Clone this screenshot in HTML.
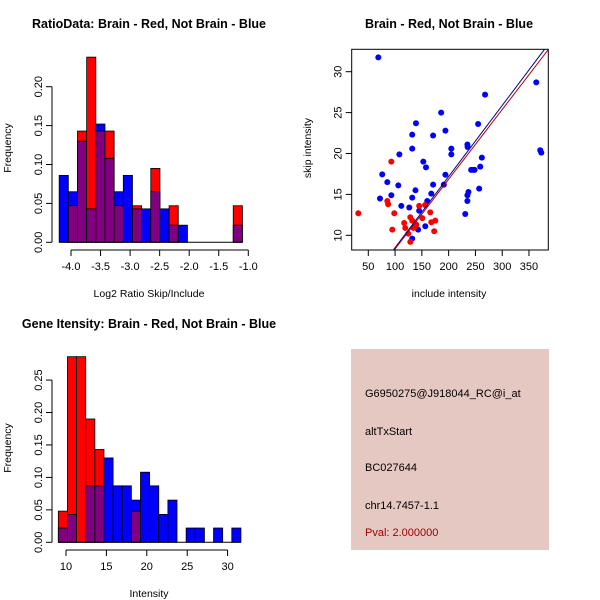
<!DOCTYPE html>
<html><head><meta charset="utf-8"><style>
body{margin:0;background:#fff;}
svg{display:block;font-family:"Liberation Sans",sans-serif;}
</style></head><body>
<svg id="s" width="600" height="600" xmlns="http://www.w3.org/2000/svg">
<rect width="600" height="600" fill="#fff"/>
<g id="p1"></g>
<g id="p2"></g>
<g id="p3"></g>
<g>
<rect x="351" y="349" width="198" height="201" fill="#E6C8C2"/>
<text x="365" y="397" font-size="11">G6950275@J918044_RC@i_at</text>
<text x="365" y="435" font-size="11">altTxStart</text>
<text x="365" y="471" font-size="11">BC027644</text>
<text x="365" y="509" font-size="11">chr14.7457-1.1</text>
<text x="365" y="536" font-size="11" fill="#A00000">Pval: 2.000000</text>
</g>
</svg>
<script>
// ---- Data: ratio histogram ----
const ratioStart=-4.2, ratioBinWidth=0.155;
const ratioBlue=[0.086,0.065,0.13,0.043,0.152,0.108,0.065,0.086,0.043,0.043,0.065,0.043,0.022,0.022,0,0,0,0,0,0.022];
const ratioRed=[0,0.047,0.143,0.238,0.143,0.143,0.047,0,0.047,0,0.095,0,0.047,0,0,0,0,0,0,0.047];
const ratioXTicks=[-4.0,-3.5,-3.0,-2.5,-2.0,-1.5,-1.0];
const ratioXTickLabels=["-4.0","-3.5","-3.0","-2.5","-2.0","-1.5","-1.0"];
const ratioYTicks=[0,0.05,0.10,0.15,0.20];
const ratioYTickLabels=["0.00","0.05","0.10","0.15","0.20"];
// ---- Data: gene intensity histogram ----
const intStart=9.05, intBinWidth=1.13;
const intBlue=[0.022,0.043,0,0.087,0.087,0.13,0.087,0.087,0.065,0.108,0.087,0.043,0.065,0,0.022,0.022,0,0.022,0,0.022];
const intRed=[0.048,0.286,0.286,0.19,0.143,0,0,0,0.048,0,0,0,0,0,0,0,0,0,0,0];
const intXTicks=[10,15,20,25,30];
const intXTickLabels=["10","15","20","25","30"];
const intYTicks=[0,0.05,0.10,0.15,0.20,0.25];
const intYTickLabels=["0.00","0.05","0.10","0.15","0.20","0.25"];
// ---- Data: scatter ----
const blueInclude=[68.7,76,71.8,85.5,93,106,108,111.6,126.5,132,132,132,132,139,138,143,145,152.7,157.7,156.4,160,167.6,171,171,186,191,194,194,205,205,231,235,235.4,235,235,237,242,246,248.5,255,257,259,262,268,363.6,371,373];
const blueSkip=[31.75,17.45,14.5,16.5,14.9,16.1,19.9,13.6,13.4,22.3,20.6,14.6,9.6,23.7,15.5,10.7,13.0,19.0,18.3,11.1,14.2,15.1,22.2,16.2,25.0,16.2,17.4,22.8,20.6,19.9,12.6,21.1,20.8,14.9,14.2,15.3,18.0,18.0,18.0,23.6,15.7,18.4,19.5,27.2,28.7,20.4,20.1];
const redInclude=[31.3,93,85.5,87,94.8,98.5,117,119,124.7,128.4,128.4,132,134,137.7,139.6,145,150.8,156,165.7,167.6,175,173];
const redSkip=[12.7,19.0,14.2,13.8,10.7,12.7,11.5,10.9,10.2,12.2,9.2,11.8,10.9,11.1,11.3,13.6,12.1,13.7,12.8,11.6,11.8,10.5];
const blueFit=[-0.2,0.0869];  // intercept, slope
const redFit=[-0.19,0.0852];
const scXTicks=[50,100,150,200,250,300,350];
const scXTickLabels=["50","100","150","200","250","300","350"];
const scYTicks=[10,15,20,25,30];
const scYTickLabels=["10","15","20","25","30"];

const NS="http://www.w3.org/2000/svg";
function mk(parent,tag,attrs,text){const e=document.createElementNS(NS,tag);for(const k in attrs)e.setAttribute(k,attrs[k]);if(text!==undefined)e.textContent=text;parent.appendChild(e);return e;}

function histogram(g,o){
  const sx=v=>o.x0px+(v-o.x0)*o.xs, sy=v=>o.y0px-v*o.ys;
  mk(g,'text',{x:o.tx,y:o.ty,'font-size':12.5,'font-weight':'bold','text-anchor':'middle'},o.title);
  for(let i=0;i<o.blue.length;i++){
    const b=o.blue[i], r=o.red[i];
    const xl=sx(o.start+i*o.bw), xr=sx(o.start+(i+1)*o.bw);
    const mx=Math.max(b,r), mn=Math.min(b,r);
    if(mx>0){
      const bar=mk(g,'rect',{x:xl,y:sy(mx),width:xr-xl,height:sy(0)-sy(mx),fill:b>=r?'#0000FF':'#FF0000',stroke:'#000','stroke-width':0.8});
      
      
    }
    if(mn>0){
      const ov=mk(g,'rect',{x:xl,y:sy(mn),width:xr-xl,height:sy(0)-sy(mn),fill:'#800080',stroke:'#000','stroke-width':0.8});
      
      
    }
  }
  mk(g,'line',{x1:sx(o.start),x2:sx(o.start+o.blue.length*o.bw),y1:sy(0),y2:sy(0),stroke:'#000'});
  const xa=o.xAxisY;
  mk(g,'line',{x1:sx(o.xt[0]),x2:sx(o.xt[o.xt.length-1]),y1:xa,y2:xa,stroke:'#000'});
  o.xt.forEach((v,i)=>{mk(g,'line',{x1:sx(v),x2:sx(v),y1:xa,y2:xa+6,stroke:'#000'});
    mk(g,'text',{x:sx(v),y:xa+20,'font-size':11,'text-anchor':'middle'},o.xl[i]);});
  mk(g,'text',{x:o.xlabX,y:o.xlabY,'font-size':10.5,'text-anchor':'middle'},o.xlab);
  const ya=o.yAxisX;
  mk(g,'line',{x1:ya,x2:ya,y1:sy(o.yt[0]),y2:sy(o.yt[o.yt.length-1]),stroke:'#000'});
  o.yt.forEach((v,i)=>{mk(g,'line',{x1:ya-6,x2:ya,y1:sy(v),y2:sy(v),stroke:'#000'});
    mk(g,'text',{x:ya-10,y:sy(v),'font-size':11,'text-anchor':'middle',transform:`rotate(-90 ${ya-10} ${sy(v)})`},o.yl[i]);});
  mk(g,'text',{x:11,y:o.ylabY,'font-size':10.5,'text-anchor':'middle',transform:`rotate(-90 11 ${o.ylabY})`},'Frequency');
}

histogram(document.getElementById('p1'),{title:'RatioData: Brain - Red, Not Brain - Blue',tx:149,ty:28,
  start:ratioStart,bw:ratioBinWidth,blue:ratioBlue,red:ratioRed,x0:-4,x0px:71,xs:59.1,y0px:242.3,ys:778,
  xt:ratioXTicks,xl:ratioXTickLabels,yt:ratioYTicks,yl:ratioYTickLabels,xAxisY:250,yAxisX:52,
  xlab:'Log2 Ratio Skip/Include',xlabX:149,xlabY:297,ylabY:148});
histogram(document.getElementById('p3'),{title:'Gene Itensity: Brain - Red, Not Brain - Blue',tx:149,ty:328,
  start:intStart,bw:intBinWidth,blue:intBlue,red:intRed,x0:10,x0px:66,xs:8.08,y0px:542.3,ys:649,
  xt:intXTicks,xl:intXTickLabels,yt:intYTicks,yl:intYTickLabels,xAxisY:550,yAxisX:52,
  xlab:'Intensity',xlabX:149,xlabY:597,ylabY:448});

(function(){
  const g=document.getElementById('p2');
  const L=351.7,R=548.3,T=49.3,B=250;
  const sx=v=>368.3+(v-50)*0.5356, sy=v=>235.3-(v-10)*8.18;
  mk(g,'text',{x:449,y:28,'font-size':12.5,'font-weight':'bold','text-anchor':'middle'},'Brain - Red, Not Brain - Blue');
  mk(g,'defs',{}).innerHTML='<clipPath id="clp"><rect x="'+L+'" y="'+T+'" width="'+(R-L)+'" height="'+(B-T)+'"/></clipPath>';
  blueInclude.forEach((v,i)=>{const c=mk(g,'circle',{cx:sx(v),cy:sy(blueSkip[i]),r:3,fill:'#0000FF'});
    
    });
  redInclude.forEach((v,i)=>{const c=mk(g,'circle',{cx:sx(v),cy:sy(redSkip[i]),r:3,fill:'#FF0000'});
    
    });
  [[blueFit,'#00008B'],[redFit,'#B00000']].forEach(([f,col])=>{
    const x1=0,x2=500;
    const ln=mk(g,'line',{x1:sx(x1),y1:sy(f[0]+f[1]*x1),x2:sx(x2),y2:sy(f[0]+f[1]*x2),stroke:col,'stroke-width':1,'clip-path':'url(#clp)'});
    
    
  });
  mk(g,'rect',{x:L,y:T,width:R-L,height:B-T,fill:'none',stroke:'#000'});
  scXTicks.forEach((v,i)=>{mk(g,'line',{x1:sx(v),x2:sx(v),y1:B,y2:B+6,stroke:'#000'});
    mk(g,'text',{x:sx(v),y:B+20,'font-size':11,'text-anchor':'middle'},scXTickLabels[i]);});
  scYTicks.forEach((v,i)=>{mk(g,'line',{x1:L-6,x2:L,y1:sy(v),y2:sy(v),stroke:'#000'});
    mk(g,'text',{x:L-10,y:sy(v),'font-size':11,'text-anchor':'middle',transform:`rotate(-90 ${L-10} ${sy(v)})`},scYTickLabels[i]);});
  mk(g,'text',{x:449,y:297,'font-size':10.5,'text-anchor':'middle'},'include intensity');
  mk(g,'text',{x:311,y:148,'font-size':10.5,'text-anchor':'middle',transform:'rotate(-90 311 148)'},'skip intensity');
})();
</script>
</body></html>
